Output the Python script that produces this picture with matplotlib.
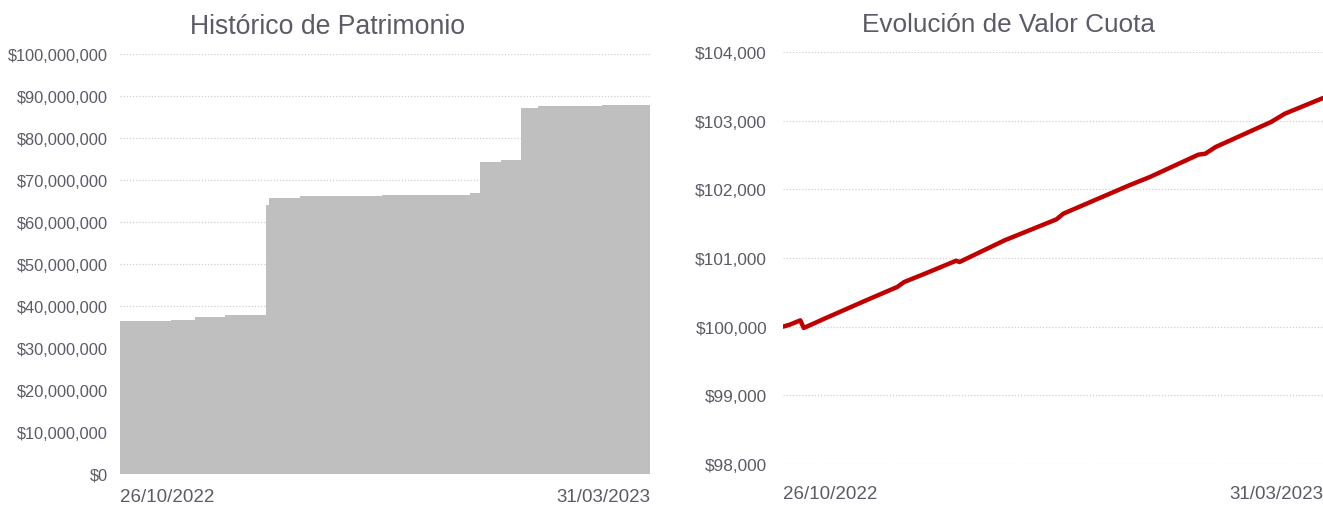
import matplotlib
matplotlib.use("Agg")
import matplotlib.pyplot as plt
import matplotlib.dates as mdates
import pandas as pd
from matplotlib.ticker import FuncFormatter

# ---- data: Histórico de Patrimonio (step changes) ----
patrimonio_dates = ["2022-10-26", "2022-11-10", "2022-11-17", "2022-11-26", "2022-12-08",
                    "2022-12-09", "2022-12-18", "2023-01-11", "2023-02-06", "2023-02-09",
                    "2023-02-15", "2023-02-21", "2023-02-26", "2023-03-17"]
patrimonio_values = [36.4e6, 36.7e6, 37.5e6, 37.9e6, 64.1e6,
                     65.7e6, 66.1e6, 66.4e6, 66.8e6, 74.4e6,
                     74.8e6, 87.1e6, 87.6e6, 87.9e6]
end_date = "2023-03-31"

# ---- data: Evolución de Valor Cuota ----
cuota_dates = ["2022-10-26", "2022-10-28", "2022-10-31", "2022-11-01", "2022-11-07",
               "2022-11-19", "2022-11-28", "2022-11-30", "2022-12-06", "2022-12-15",
               "2022-12-16", "2022-12-20", "2022-12-29", "2023-01-13", "2023-01-15",
               "2023-02-03", "2023-02-09", "2023-02-23", "2023-02-25", "2023-02-28",
               "2023-03-16", "2023-03-20", "2023-03-31"]
cuota_values = [100000, 100030, 100092, 99981, 100117,
                100383, 100578, 100650, 100772, 100960,
                100942, 101039, 101257, 101563, 101646,
                102058, 102180, 102505, 102519, 102617,
                102981, 103102, 103330]

x_labels = ["26/10/2022", "31/03/2023"]
titles = ["Histórico de Patrimonio", "Evolución de Valor Cuota"]

plt.rcParams['font.family'] = ['Liberation Sans', 'DejaVu Sans']
text_color = "#5d5a68"
grid_color = "#d0d0d0"

fig = plt.figure(figsize=(13.23, 5.06), dpi=100)

start_num = mdates.date2num(pd.to_datetime(patrimonio_dates[0]))
end_num = mdates.date2num(pd.to_datetime(end_date))

# ---- left chart ----
ax1 = fig.add_axes([120/1323, 31/506, 530/1323, 420/506])
edges = list(mdates.date2num(pd.to_datetime(patrimonio_dates + [end_date])))
ax1.stairs(patrimonio_values, edges, fill=True, color="#bfbfbf", baseline=0, zorder=2)
ax1.set_ylim(0, 100e6)
ax1.set_yticks([i * 10e6 for i in range(11)])
ax1.yaxis.set_major_formatter(FuncFormatter(lambda v, p: f"${v:,.0f}"))

# ---- right chart ----
ax2 = fig.add_axes([783/1323, 41/506, 540/1323, 412/506])
ax2.plot(mdates.date2num(pd.to_datetime(cuota_dates)), cuota_values,
         color="#c00000", lw=3.2, solid_capstyle="round", solid_joinstyle="round", zorder=3)
ax2.set_ylim(98000, 104000)
ax2.set_yticks(range(98000, 104001, 1000))
ax2.yaxis.set_major_formatter(FuncFormatter(lambda v, p: f"${v:,.0f}"))

for ax, ypad, xpad, ysize in ((ax1, 8.5, 10, 11.8), (ax2, 11.5, 15, 12.4)):
    ax.set_xlim(start_num, end_num)
    ax.set_xticks([start_num, end_num])
    ax.set_xticklabels(x_labels)
    labs = ax.get_xticklabels()
    labs[0].set_ha("left")
    labs[1].set_ha("right")
    for s in ax.spines.values():
        s.set_visible(False)
    ax.grid(axis="y", color=grid_color, linestyle=(0, (1, 1.5)), linewidth=0.9, zorder=0)
    ax.set_axisbelow(True)
    ax.tick_params(axis="both", length=0, colors=text_color)
    ax.tick_params(axis="y", pad=ypad, labelsize=ysize)
    ax.tick_params(axis="x", pad=xpad, labelsize=13.5)

fig.text(328/1323, 1 - 27/506, titles[0], ha="center", va="center",
         fontsize=19.2, color=text_color)
fig.text(1008/1323, 1 - 25/506, titles[1], ha="center", va="center",
         fontsize=18.8, color=text_color)

fig.savefig("out.png", dpi=100)
